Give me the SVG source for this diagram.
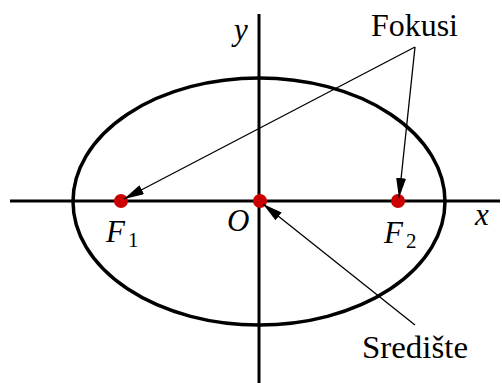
<svg xmlns="http://www.w3.org/2000/svg" width="502" height="383" viewBox="0 0 502 383">
<style>
.axis{stroke:#000;stroke-width:3;fill:none}
.ell{stroke:#000;stroke-width:3.5;fill:none}
.dot{fill:#cc0000}
.conn{stroke:#000;stroke-width:1.3;fill:none;marker-end:url(#ah)}
text{font-family:'Liberation Serif','Times New Roman',serif;fill:#000}
.t{font-size:31px}
.m{font-size:31px;font-style:italic}
.sub{font-size:21px}
</style>
<defs>
<marker id="ah" viewBox="0 0 20 10" markerWidth="20" markerHeight="10" refX="20" refY="5" markerUnits="userSpaceOnUse" orient="auto">
<path d="M0,0 L20,5 L0,10 z" fill="#000"/>
</marker>
</defs>
<g id="axes">
<line class="axis" x1="10" y1="201" x2="500" y2="201"/>
<line class="axis" x1="259" y1="14" x2="259" y2="383"/>
<text class="m" x="475" y="225">x</text>
<text class="m" x="234" y="40">y</text>
</g>
<g id="ellipse">
<ellipse class="ell" cx="259" cy="201.5" rx="186" ry="123.5"/>
</g>
<g id="F1">
<circle class="dot" cx="121" cy="201" r="7"/>
<text class="m" x="106" y="242">F</text>
<text class="sub" x="128" y="247">1</text>
</g>
<g id="O">
<circle class="dot" cx="260" cy="201" r="7"/>
<text class="m" x="227" y="231">O</text>
</g>
<g id="F2">
<circle class="dot" cx="398" cy="201" r="7"/>
<text class="m" x="384" y="243">F</text>
<text class="sub" x="406" y="248">2</text>
</g>
<g id="fokusi">
<text class="t" x="371" y="36" textLength="87" lengthAdjust="spacingAndGlyphs">Fokusi</text>
</g>
<g id="srediste">
<text class="t" x="362" y="358" textLength="106" lengthAdjust="spacingAndGlyphs">Središte</text>
</g>
<g id="connectors">
<line class="conn" x1="415" y1="47" x2="124" y2="199"/>
<line class="conn" x1="415" y1="47" x2="399" y2="198"/>
<line class="conn" x1="415" y1="325" x2="263" y2="204"/>
</g>
</svg>
